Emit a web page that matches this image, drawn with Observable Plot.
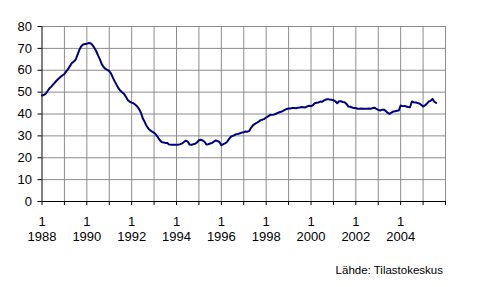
<!DOCTYPE html>
<html>
<head>
<meta charset="utf-8">
<script src="https://cdn.jsdelivr.net/npm/d3@7"></script>
<script src="https://cdn.jsdelivr.net/npm/@observablehq/plot@0.6"></script>
<style>
  html, body { margin: 0; padding: 0; background: #fff; }
  #wrap { position: relative; width: 492px; height: 287px; }
  #source { position: absolute; right: 49px; top: 264px; font: 11.5px "Liberation Sans", Arial, sans-serif; color: #000; }
</style>
</head>
<body>
<div id="wrap"><div id="chart"></div><div id="source"></div></div>
<script>
// Monthly series, starting January 1988
const startYear = 1988;
const monthlyValues = [
  48.5, 48.7, 49.3, 50.5, 51.8, 52.5, 53.5, 54.5, 55.4, 56.2, 57.0, 57.7, // 1988
  58.3, 59.5, 60.6, 62.0, 63.3, 64.0, 64.8, 67.0, 69.3, 71.0, 71.8, 72.0, // 1989
  72.1, 72.5, 72.3, 71.5, 70.3, 68.8, 66.8, 65.0, 62.8, 61.5, 60.6, 60.2, // 1990
  59.6, 58.5, 56.5, 54.8, 53.2, 51.7, 50.6, 49.8, 49.1, 47.8, 46.3, 45.6, // 1991
  45.2, 44.9, 44.2, 43.4, 42.2, 40.5, 37.9, 36.3, 34.5, 33.3, 32.5, 31.9, // 1992
  31.4, 30.6, 29.4, 28.1, 27.2, 27.0, 26.8, 26.8, 26.1, 26.0, 26.0, 26.0, // 1993
  26.0, 26.0, 26.2, 26.6, 27.2, 27.8, 27.4, 26.0, 25.9, 26.2, 26.4, 27.0, // 1994
  28.0, 28.2, 27.9, 27.3, 26.1, 26.2, 26.5, 26.7, 27.4, 27.9, 27.6, 27.2, // 1995
  25.7, 26.2, 26.6, 27.2, 28.4, 29.5, 30.0, 30.3, 30.8, 30.9, 31.2, 31.5, // 1996
  31.7, 32.0, 31.9, 32.3, 33.8, 34.9, 35.5, 36.0, 36.5, 37.2, 37.4, 37.8, // 1997
  38.4, 38.9, 39.5, 39.6, 39.7, 40.0, 40.4, 40.8, 41.0, 41.4, 41.9, 42.3, // 1998
  42.5, 42.5, 42.8, 42.8, 42.6, 42.9, 43.0, 43.2, 43.1, 43.0, 43.5, 43.8, // 1999
  43.6, 44.0, 44.9, 45.1, 45.3, 45.7, 45.6, 46.2, 46.6, 46.8, 46.6, 46.5, // 2000
  46.3, 45.8, 44.9, 45.8, 45.8, 45.5, 45.4, 44.6, 43.4, 43.3, 43.0, 42.7, // 2001
  42.7, 42.4, 42.4, 42.5, 42.4, 42.4, 42.4, 42.5, 42.4, 42.7, 42.9, 42.3, // 2002
  41.9, 41.6, 41.9, 42.0, 41.4, 40.6, 40.1, 40.6, 41.1, 41.3, 41.5, 41.6, // 2003
  43.9, 43.6, 43.7, 43.4, 43.2, 43.1, 45.7, 45.4, 45.3, 45.0, 44.8, 44.2, // 2004
  43.4, 43.9, 44.7, 45.7, 46.0, 46.9, 45.6, 45.1                          // 2005
];
const yTicks = [0, 10, 20, 30, 40, 50, 60, 70, 80];
const xYears = d3.range(1988, 2007);
const labelYears = [1988, 1990, 1992, 1994, 1996, 1998, 2000, 2002, 2004];
const monthLabel = "1";
const sourceText = "Lähde: Tilastokeskus";

const data = monthlyValues.map((v, i) => ({t: startYear + i / 12, v}));
const gridColor = "#8c8c8c";

const chart = Plot.plot({
  width: 492,
  height: 287,
  marginLeft: 41.5,
  marginRight: 47,
  marginTop: 26,
  marginBottom: 86,
  style: {fontFamily: '"Liberation Sans", Arial, sans-serif', fontSize: "13px", background: "#fff", color: "#000"},
  x: {domain: [1988, 2006]},
  y: {domain: [0, 80]},
  marks: [
    Plot.ruleX(xYears.filter(d => d > 1988), {y1: 0, y2: 80, stroke: gridColor, strokeWidth: 1}),
    Plot.ruleY(yTicks.filter(d => d > 0), {stroke: gridColor, strokeWidth: 1}),
    Plot.axisY({ticks: yTicks, tickSize: 4, tickPadding: 6, tickFormat: d => String(d), label: null, stroke: "#000"}),
    Plot.axisX({ticks: xYears, tickSize: 4, tickPadding: 10, label: null,
      tickFormat: d => labelYears.includes(d) ? monthLabel + "\n" + d : "", lineHeight: 1.15}),
    Plot.line(data, {x: "t", y: "v", stroke: "#000080", strokeWidth: 2}),
    Plot.ruleX([1988], {y1: 0, y2: 80, stroke: "#000", strokeWidth: 1}),
    Plot.ruleY([0], {stroke: "#000", strokeWidth: 1})
  ]
});
document.getElementById("chart").appendChild(chart);
document.getElementById("source").textContent = sourceText;
</script>
</body>
</html>
